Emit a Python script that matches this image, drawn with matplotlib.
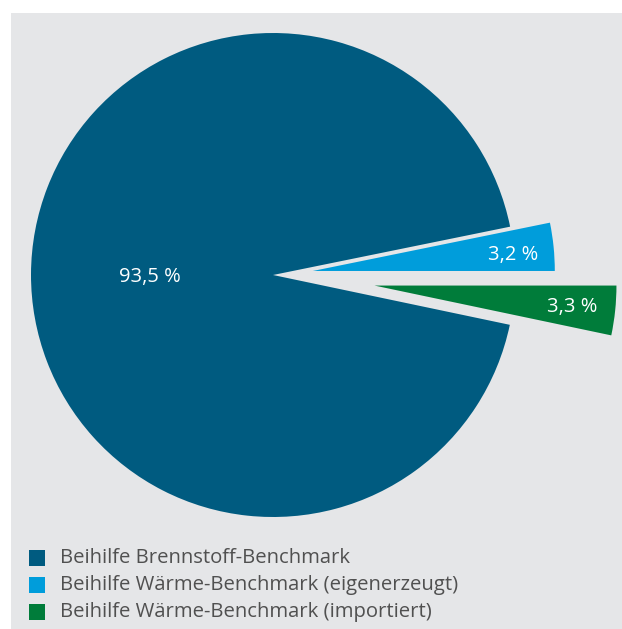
import matplotlib.pyplot as plt
from matplotlib.patches import Rectangle

plt.rcParams['font.family'] = ['Open Sans', 'DejaVu Sans']

# Anteile der Beihilfe nach Benchmark (%)
kategorien = ['Beihilfe Brennstoff-Benchmark',
              'Beihilfe Wärme-Benchmark (eigenerzeugt)',
              'Beihilfe Wärme-Benchmark (importiert)']
anteile = [93.5, 3.2, 3.3]
beschriftung = ['93,5 %', '3,2 %', '3,3 %']
farben = ['#005b80', '#009ddb', '#007c3a']

W, H = 622, 629
fig = plt.figure(figsize=(W / 100, H / 100), dpi=100)
fig.patch.set_facecolor('white')
ax = fig.add_axes([0, 0, 1, 1])
ax.set_axis_off()

# grauer Hintergrund
ax.add_patch(Rectangle((11, 0), W - 11, H - 13, facecolor='#e5e6e8',
                       edgecolor='none', zorder=0))

radius = 242
mitte = (273, H - 275)
# explode wirkt in Datenkoordinaten (Pixel)
abstand = [0, 40, 102]
wedges, texts = ax.pie(anteile, colors=farben, explode=abstand,
                       startangle=360 * (1 - anteile[2] / 100),
                       counterclock=False, radius=radius, center=mitte,
                       frame=True,
                       wedgeprops=dict(linewidth=0, antialiased=True))

# Prozentwerte
positionen = [(150, 277), (513, 255), (572, 307)]
for (x, y), txt in zip(positionen, beschriftung):
    ax.text(x, H - y, txt, color='white', fontsize=14.5,
            ha='center', va='center', zorder=5)

# Legende
for i, (name, farbe) in enumerate(zip(kategorien, farben)):
    y = H - (558 + i * 27)
    ax.add_patch(Rectangle((29, y - 8), 16, 16, facecolor=farbe,
                           edgecolor='none', zorder=3))
    ax.text(60, y, name, color='#505050', fontsize=14.6,
            ha='left', va='center', zorder=3)

ax.set_xlim(0, W)
ax.set_ylim(0, H)
ax.set_aspect('equal')
ax.set_axis_off()

fig.savefig('out.png', dpi=100)
